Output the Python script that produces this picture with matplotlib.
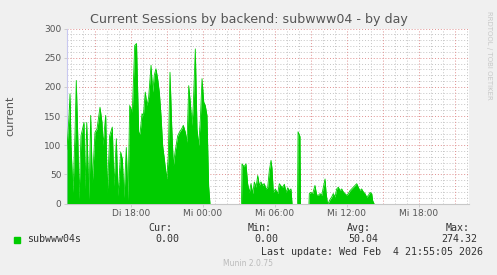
import numpy as np
import matplotlib
matplotlib.use("Agg")
import matplotlib.pyplot as plt

# time in hours since Tuesday 00:00, value = current sessions
hours_a = [12.667, 12.833, 12.917, 13.0, 13.167, 13.333, 13.44, 13.583, 13.667, 13.833,
           14.083, 14.167, 14.31, 14.5, 14.64, 14.78, 15.0, 15.167, 15.417, 15.583,
           15.667, 15.89, 16.03, 16.22, 16.44, 16.583, 16.78, 16.917, 17.14, 17.28,
           17.417, 17.61, 17.75, 17.89, 18.11, 18.31, 18.46, 18.64, 18.75, 18.917,
           19.03, 19.19, 19.33, 19.47, 19.67, 19.81, 19.94, 20.08, 20.22, 20.36,
           20.5, 20.64, 20.78, 20.97, 21.11, 21.25, 21.39, 21.53, 21.67, 21.89,
           22.03, 22.22, 22.36, 22.53, 22.67, 22.81, 22.94, 23.08, 23.19, 23.36,
           23.5, 23.64, 23.78, 23.92, 24.06, 24.19, 24.33, 24.47, 24.58]
values_a = [93, 150, 188, 100, 19, 120, 211, 100, 7, 116,
            139, 25, 139, 7, 151, 36, 122, 128, 165, 139,
            100, 151, 19, 116, 131, 30, 111, 13, 88, 76,
            10, 96, 5, 168, 157, 271, 274.32, 122, 119, 154,
            151, 191, 168, 182, 237, 191, 220, 231, 214, 191,
            151, 99, 76, 42, 82, 225, 134, 65, 88, 116,
            122, 128, 134, 122, 105, 202, 174, 134, 168, 265,
            128, 99, 145, 214, 174, 168, 151, 30, 0]

hours_b = [27.21, 27.25, 27.42, 27.58, 27.72, 27.86, 28.0, 28.14, 28.28, 28.42,
           28.56, 28.69, 28.83, 28.97, 29.11, 29.25, 29.39, 29.53, 29.67, 29.75,
           29.86, 30.03, 30.22, 30.36, 30.5, 30.64, 30.78, 30.92, 31.06, 31.19,
           31.33, 31.42]
values_b = [0, 68, 63, 68, 34, 19, 34, 17, 37, 28,
            48, 31, 37, 31, 34, 25, 28, 57, 74, 60,
            19, 25, 17, 34, 30, 28, 33, 19, 27, 22,
            25, 0]

hours_c = [31.875, 31.92, 32.08, 32.125]
values_c = [0, 123, 115, 0]

hours_d = [32.83, 32.86, 32.97, 33.14, 33.33, 33.47, 33.61, 33.75, 33.89, 34.03,
           34.17, 34.25, 34.36, 34.44, 34.53, 34.72, 34.86, 35.0, 35.14, 35.28,
           35.42, 35.56, 35.69, 35.83, 35.97, 36.11, 36.25, 36.39, 36.53, 36.67,
           36.81, 36.94, 37.08, 37.22, 37.36, 37.5, 37.64, 37.78, 37.92, 38.06,
           38.14, 38.25]
values_d = [0, 17, 19, 17, 31, 15, 14, 17, 14, 28,
            42, 20, 2, 0, 5, 11, 17, 11, 25, 28,
            22, 25, 20, 17, 14, 17, 22, 25, 28, 31,
            34, 28, 22, 25, 20, 17, 11, 14, 19, 17,
            5, 0]

x_tick_hours = [18, 24, 30, 36, 42]
x_tick_labels = ["Di 18:00", "Mi 00:00", "Mi 06:00", "Mi 12:00", "Mi 18:00"]
y_ticks = [0, 50, 100, 150, 200, 250, 300]

series_name = "subwww04s"
stat_names = ["Cur:", "Min:", "Avg:", "Max:"]
stat_values = ["0.00", "0.00", "50.04", "274.32"]

GREEN = "#00CC00"
TEXT = "#555555"

fig = plt.figure(figsize=(4.97, 2.75), dpi=100)
fig.patch.set_facecolor("#F0F0F0")
ax = fig.add_axes([67 / 497, (275 - 203.5) / 275, 402 / 497, 175 / 275])
ax.set_facecolor("white")

for h, v in [(hours_a, values_a), (hours_b, values_b), (hours_c, values_c), (hours_d, values_d)]:
    ax.fill_between(h, 0, v, color=GREEN, linewidth=0, zorder=3)
    ax.plot(h, v, color=GREEN, linewidth=0.6, zorder=3)

ax.set_xlim(12.667, 46.167)
ax.set_ylim(0, 300)

# grids
for yy in range(10, 300, 10):
    if yy % 50:
        ax.axhline(yy, color="#C4C4C4", linewidth=0.7, linestyle=(0, (1, 2)), zorder=1)
for yy in range(50, 301, 50):
    ax.axhline(yy, color="#E09090", linewidth=0.7, linestyle=(0, (1, 2)), zorder=2)
for xx in range(13, 47):
    if xx % 3:
        ax.axvline(xx, color="#C4C4C4", linewidth=0.7, linestyle=(0, (1, 2)), zorder=1)
for xx in range(15, 47, 3):
    ax.axvline(xx, color="#E09090", linewidth=0.7, linestyle=(0, (1, 2)), zorder=2)

for s in ["top", "right"]:
    ax.spines[s].set_visible(False)
ax.spines["left"].set_color("#C8C8F0")
ax.spines["bottom"].set_color("#C8C8C8")
ax.spines["left"].set_linewidth(0.8)
ax.spines["bottom"].set_linewidth(0.8)

ax.set_yticks(y_ticks)
ax.set_yticklabels([str(t) for t in y_ticks])
ax.set_xticks(x_tick_hours)
ax.set_xticklabels(x_tick_labels)
ax.tick_params(axis="both", length=2, width=0.6, color="#C8C8C8", labelcolor=TEXT, labelsize=6.5, pad=2)

ax.set_ylabel("current", fontsize=8, color=TEXT, labelpad=21)
fig.text(248.7 / 497, 1 - 19 / 275, "Current Sessions by backend: subwww04 - by day",
         ha="center", va="center", fontsize=9.1, color=TEXT)
fig.text(489 / 497, 1 - 55 / 275, "RRDTOOL / TOBI OETIKER", rotation=270,
         ha="center", va="center", fontsize=5.0, color="#C8C8C8")

mono = "DejaVu Sans Mono"
fig.patches.append(plt.Rectangle((14 / 497, 1 - 242.5 / 275), 5.5 / 497, 5.5 / 275,
                                 transform=fig.transFigure, color=GREEN, figure=fig))
fig.text(27 / 497, 1 - 239.5 / 275, series_name, ha="left", va="center", fontsize=7.2,
         color="#333333", family=mono)
hdr_right = [172, 272, 371, 470]
val_right = [179, 278, 378, 477]
for i in range(4):
    fig.text(hdr_right[i] / 497, 1 - 227.7 / 275, stat_names[i], ha="right", va="center",
             fontsize=7.2, color="#333333", family=mono)
    fig.text(val_right[i] / 497, 1 - 239.5 / 275, stat_values[i], ha="right", va="center",
             fontsize=7.2, color="#333333", family=mono)
fig.text(483 / 497, 1 - 251.7 / 275, "Last update: Wed Feb  4 21:55:05 2026", ha="right",
         va="center", fontsize=7.2, color="#333333", family=mono)
fig.text(248 / 497, 1 - 264 / 275, "Munin 2.0.75", ha="center", va="center",
         fontsize=5.5, color="#BBBBBB")

fig.savefig("out.png", dpi=100, facecolor=fig.get_facecolor())
